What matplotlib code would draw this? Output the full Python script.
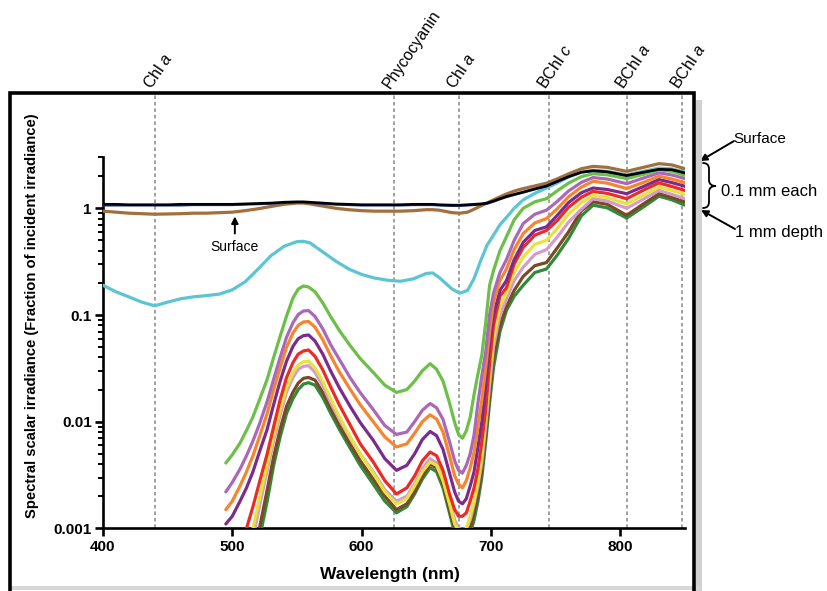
import numpy as np
import matplotlib
matplotlib.use("Agg")
import matplotlib.pyplot as plt
from matplotlib.patches import Rectangle, PathPatch
from matplotlib.path import Path
from matplotlib.ticker import FixedLocator, LogLocator, NullFormatter, FuncFormatter

nan = np.nan

# wavelength grid for the depth profiles (nm)
depth_nm = [495, 500, 506, 511, 516, 521, 527, 532, 537, 542, 547, 551, 555, 559, 564,
            570, 576, 583, 591, 599, 609, 618, 627,
            635, 641, 647, 653, 658, 663, 668, 672, 675, 678, 681, 684, 687, 690, 693,
            696, 699, 702, 707,
            712, 718, 725, 734, 743, 751, 760, 770, 779, 790, 805, 818, 830, 840, 850]

mm02 = [0.0041, 0.0049, 0.0063, 0.0083, 0.0111, 0.016, 0.025, 0.040, 0.063, 0.098,
        0.145, 0.175, 0.187, 0.183, 0.165, 0.130, 0.097, 0.071, 0.052, 0.039,
        0.029, 0.022, 0.0188,
        0.0200, 0.024, 0.030, 0.035, 0.031, 0.024, 0.015, 0.0098, 0.0076, 0.0070,
        0.0082, 0.011, 0.018, 0.028, 0.042, 0.085, 0.19, 0.26, 0.40,
        0.54, 0.78, 1.0, 1.15, 1.23, 1.45, 1.72, 1.98, 2.11, 2.06, 1.9, 2.08, 2.3, 2.22, 2.04]
mm03 = [0.0022, 0.0027, 0.0036, 0.0048, 0.0066, 0.0095, 0.0155, 0.025, 0.040, 0.062,
        0.085, 0.101, 0.109, 0.110, 0.097, 0.074, 0.053, 0.038, 0.026, 0.0187,
        0.013, 0.0092, 0.0076,
        0.0080, 0.0100, 0.0128, 0.0148, 0.0135, 0.0105, 0.0065, 0.0043, 0.0035, 0.0033,
        0.0039, 0.0050, 0.0075, 0.015, 0.027, 0.045, 0.10, 0.16, 0.25,
        0.33, 0.50, 0.72, 0.88, 0.96, 1.15, 1.45, 1.75, 1.94, 1.88, 1.7, 1.92, 2.15, 2.05, 1.9]
mm04 = [0.0015, 0.0018, 0.0025, 0.0034, 0.0048, 0.0072, 0.012, 0.020, 0.032, 0.050,
        0.068, 0.080, 0.086, 0.087, 0.077, 0.0585, 0.0417, 0.029, 0.0203, 0.0144,
        0.010, 0.0072, 0.0058,
        0.0062, 0.0078, 0.0100, 0.0116, 0.0106, 0.0080, 0.0048, 0.0031, 0.0026, 0.0024,
        0.0028, 0.0037, 0.0052, 0.009, 0.016, 0.032, 0.07, 0.13, 0.21,
        0.27, 0.41, 0.58, 0.73, 0.80, 0.98, 1.28, 1.58, 1.79, 1.72, 1.53, 1.75, 2.0, 1.88, 1.74]
mm05 = [0.0011, 0.0013, 0.0018, 0.0024, 0.0034, 0.0052, 0.0085, 0.0145, 0.024, 0.037,
        0.051, 0.060, 0.064, 0.065, 0.057, 0.043, 0.030, 0.0206, 0.014, 0.0098,
        0.0067, 0.0045, 0.0035,
        0.0039, 0.0050, 0.0068, 0.0081, 0.0074, 0.0055, 0.0033, 0.0022, 0.0018, 0.0017,
        0.0019, 0.0025, 0.0034, 0.0058, 0.010, 0.022, 0.055, 0.10, 0.17,
        0.21, 0.33, 0.48, 0.62, 0.67, 0.85, 1.13, 1.40, 1.55, 1.50, 1.37, 1.60, 1.86, 1.74, 1.61]
mm06 = [nan, nan, 0.0007, 0.0010, 0.0016, 0.0027, 0.0050, 0.0090, 0.016, 0.026,
        0.036, 0.043, 0.046, 0.047, 0.041, 0.0306, 0.0213, 0.0142, 0.0094, 0.0062,
        0.0042, 0.0028, 0.0021,
        0.0024, 0.0031, 0.0043, 0.0052, 0.0048, 0.0035, 0.0021, 0.0015, 0.0013, 0.0013,
        0.0014, 0.0018, 0.0024, 0.0036, 0.0065, 0.013, 0.035, 0.08, 0.15,
        0.18, 0.30, 0.43, 0.56, 0.62, 0.76, 1.02, 1.27, 1.44, 1.38, 1.23, 1.48, 1.73, 1.60, 1.47]
mm07 = [nan, nan, nan, nan, 0.0008, 0.0016, 0.0035, 0.0066, 0.0115, 0.019,
        0.026, 0.031, 0.033, 0.0335, 0.029, 0.0217, 0.0152, 0.0104, 0.0071, 0.0050,
        0.0034, 0.0023, 0.0018,
        0.0020, 0.0026, 0.0036, 0.0045, 0.0041, 0.0030, 0.0018, 0.0012, 0.0010, 0.00098,
        0.0010, 0.0012, 0.0017, 0.0025, 0.0042, 0.009, 0.022, 0.05, 0.10,
        0.14, 0.21, 0.28, 0.37, 0.41, 0.53, 0.74, 0.98, 1.23, 1.17, 1.00, 1.22, 1.47, 1.35, 1.23]
mm08 = [nan, nan, nan, 0.0007, 0.0010, 0.0019, 0.0040, 0.0075, 0.013, 0.021,
        0.029, 0.034, 0.0365, 0.037, 0.032, 0.0238, 0.0165, 0.011, 0.0073, 0.0050,
        0.0033, 0.0022, 0.0017,
        0.0019, 0.0025, 0.0034, 0.0042, 0.0039, 0.0028, 0.0017, 0.0011, 0.00095, 0.0009,
        0.0010, 0.0013, 0.0018, 0.0028, 0.0048, 0.011, 0.027, 0.06, 0.12,
        0.16, 0.25, 0.35, 0.46, 0.50, 0.64, 0.88, 1.13, 1.32, 1.26, 1.10, 1.33, 1.58, 1.47, 1.35]
mm09 = [nan, nan, nan, nan, 0.0005, 0.0010, 0.0023, 0.0047, 0.0085, 0.014,
        0.019, 0.023, 0.0255, 0.026, 0.0245, 0.0189, 0.0134, 0.0092, 0.0062, 0.0043,
        0.0029, 0.0020, 0.0015,
        0.0017, 0.0022, 0.0031, 0.0040, 0.0037, 0.0026, 0.0015, 0.0010, 0.0008, 0.00078,
        0.00085, 0.0010, 0.0014, 0.0021, 0.0035, 0.0075, 0.018, 0.04, 0.08,
        0.12, 0.17, 0.23, 0.29, 0.31, 0.42, 0.60, 0.95, 1.15, 1.09, 0.86, 1.1, 1.37, 1.26, 1.15]
mm10 = [nan, nan, nan, nan, nan, 0.0008, 0.0018, 0.0039, 0.0072, 0.012,
        0.0165, 0.020, 0.0225, 0.0232, 0.022, 0.0169, 0.0121, 0.0084, 0.0057, 0.0039,
        0.0026, 0.0018, 0.0014,
        0.0016, 0.0021, 0.0029, 0.0037, 0.0034, 0.0024, 0.0014, 0.0009, 0.0007, 0.00068,
        0.00075, 0.0009, 0.0012, 0.0018, 0.003, 0.0065, 0.015, 0.032, 0.07,
        0.11, 0.15, 0.19, 0.25, 0.27, 0.36, 0.52, 0.85, 1.07, 1.01, 0.81, 1.03, 1.3, 1.2, 1.07]

# wavelength grid for the full-range spectra (nm)
full_nm = [400, 410, 420, 430, 440, 450, 460, 470, 480, 490, 500, 510, 520, 530, 540,
           550, 555, 560, 570, 580, 590, 600, 610, 620, 630, 640, 650, 655, 660, 670,
           676, 682, 687, 692, 697, 702, 707, 712, 718, 725, 734, 743, 751, 760, 770,
           779, 790, 805, 818, 830, 840, 850]

incident = [1.09, 1.09, 1.08, 1.08, 1.08, 1.08, 1.09, 1.09, 1.09, 1.09, 1.09, 1.10, 1.11,
            1.12, 1.14, 1.15, 1.15, 1.14, 1.12, 1.10, 1.09, 1.08, 1.08, 1.08, 1.08, 1.09,
            1.09, 1.09, 1.08, 1.07, 1.07, 1.08, 1.09, 1.10, 1.12, 1.17, 1.23, 1.29, 1.35,
            1.42, 1.52, 1.62, 1.78, 1.98, 2.18, 2.25, 2.2, 2.03, 2.18, 2.32, 2.3, 2.15]
incident_b = [1.06, 1.06, 1.06, 1.06, 1.06, 1.06, 1.06, 1.07, 1.07, 1.07, 1.07, 1.08, 1.09,
              1.10, 1.12, 1.13, 1.13, 1.12, 1.10, 1.08, 1.07, 1.06, 1.06, 1.06, 1.06, 1.07,
              1.07, 1.07, 1.06, 1.05, 1.05, 1.06, 1.07, 1.08, 1.10, 1.15, 1.21, 1.27, 1.33,
              1.40, 1.50, 1.60, 1.76, 1.96, 2.16, 2.23, 2.18, 2.01, 2.16, 2.30, 2.28, 2.13]
surface = [0.94, 0.92, 0.90, 0.89, 0.88, 0.885, 0.89, 0.90, 0.90, 0.91, 0.92, 0.95, 0.99,
           1.04, 1.09, 1.12, 1.12, 1.10, 1.05, 1.00, 0.97, 0.95, 0.94, 0.94, 0.94, 0.95,
           0.97, 0.97, 0.96, 0.91, 0.90, 0.92, 0.98, 1.05, 1.12, 1.2, 1.28, 1.36, 1.45,
           1.53, 1.62, 1.72, 1.88, 2.1, 2.35, 2.47, 2.42, 2.22, 2.42, 2.62, 2.55, 2.35]
mm01 = [0.19, 0.165, 0.148, 0.132, 0.122, 0.132, 0.142, 0.148, 0.152, 0.157, 0.172, 0.205,
        0.27, 0.36, 0.44, 0.487, 0.49, 0.475, 0.39, 0.32, 0.27, 0.24, 0.222, 0.212, 0.207,
        0.218, 0.245, 0.248, 0.225, 0.175, 0.16, 0.17, 0.22, 0.32, 0.45, 0.56, 0.70, 0.82,
        1.0, 1.2, 1.38, 1.55, 1.72, 1.96, 2.18, 2.27, 2.22, 2.06, 2.22, 2.38, 2.34, 2.18]

pigment_nm = [440, 625, 675, 745, 805, 848]
pigment_labels = ["Chl $a$", "Phycocyanin", "Chl $a$", "BChl $c$", "BChl $a$", "BChl $a$"]

x_ticks = [400, 500, 600, 700, 800]
y_ticks = [0.001, 0.01, 0.1, 1]
y_tick_labels = ["0.001", "0.01", "0.1", "1"]

depth_series = [mm10, mm09, mm07, mm08, mm06, mm05, mm04, mm03, mm02]
depth_colors = ["#2f8a3b", "#7b4a24", "#d39ccd", "#e4e43a", "#ee2a24",
                "#7a2c8d", "#f6852c", "#aa68b8", "#6cbf47"]

plt.rcParams["font.family"] = ["Liberation Sans", "DejaVu Sans"]
plt.rcParams["mathtext.fontset"] = "custom"
plt.rcParams["mathtext.rm"] = "Liberation Sans"
plt.rcParams["mathtext.it"] = "Liberation Sans:italic"

W, H = 827, 591


def fx(px):
    return px / W


def fy(py):
    return 1 - py / H


fig = plt.figure(figsize=(8.27, 5.91), dpi=100)
ax = fig.add_axes([0.1245, 0.1059, 0.7036, 0.6278])

# outer frame with a soft shadow
fig.patches.append(Rectangle((0.842, -0.05), 0.007, 0.88, transform=fig.transFigure,
                             facecolor="#d0d0d0", edgecolor="none", zorder=0))
fig.patches.append(Rectangle((0.012, 0.002), 0.835, 0.006, transform=fig.transFigure,
                             facecolor="#d8d8d8", edgecolor="none", zorder=0))
fig.patches.append(Rectangle((0.0121, -0.05), 0.8269, 0.8926, transform=fig.transFigure,
                             facecolor="none", edgecolor="black", linewidth=2.6, zorder=1))

for x in pigment_nm:
    ax.axvline(x, ymin=0, ymax=1.168, color="#9a9a9a", linestyle=(0, (2, 1.6)),
               linewidth=1.3, clip_on=False, zorder=1)

for vals, col in zip(depth_series, depth_colors):
    ax.plot(depth_nm, vals, color=col, linewidth=2.3, solid_capstyle="round",
            solid_joinstyle="round", zorder=3)

ax.plot(full_nm, mm01, color="#5cc5d4", linewidth=2.3, solid_capstyle="round", zorder=4)
ax.plot(full_nm, surface, color="#a36f3d", linewidth=2.3, solid_capstyle="round", zorder=4)
ax.plot(full_nm, incident_b, color="#2a48a8", linewidth=1.4, zorder=5)
ax.plot(full_nm, incident, color="black", linewidth=1.9, zorder=6)

ax.set_yscale("log")
ax.set_xlim(400, 850)
ax.set_ylim(0.001, 3)
ax.xaxis.set_major_locator(FixedLocator(x_ticks))
ax.yaxis.set_major_locator(FixedLocator(y_ticks))
ax.yaxis.set_major_formatter(FuncFormatter(lambda v, _: y_tick_labels[y_ticks.index(v)]
                                           if v in y_ticks else ""))
ax.yaxis.set_minor_locator(LogLocator(base=10, subs=np.arange(2, 10)))
ax.yaxis.set_minor_formatter(NullFormatter())
for side in ["top", "right"]:
    ax.spines[side].set_visible(False)
for side in ["left", "bottom"]:
    ax.spines[side].set_linewidth(1.9)
ax.tick_params(which="major", direction="out", length=6, width=1.9, pad=2)
ax.tick_params(which="minor", direction="out", length=3.5, width=1.4)
for lab in ax.get_xticklabels() + ax.get_yticklabels():
    lab.set_fontweight("bold")
    lab.set_fontsize(11)
ax.patch.set_visible(False)

fig.text(fx(390), fy(574), "Wavelength (nm)", fontweight="bold",
         fontsize=12.5, ha="center", va="center")
fig.text(fx(32), fy(316),
         "Spectral scalar irradiance (Fraction of incident irradiance)",
         fontweight="bold", fontsize=10.6, rotation=90, ha="center", va="center")

label_tr = ax.get_xaxis_transform()
for x, lab in zip(pigment_nm, pigment_labels):
    ax.text(x - 1, 1.178, lab, transform=label_tr, rotation=56, rotation_mode="anchor",
            ha="left", va="bottom", fontsize=11.5, clip_on=False)

# arrow inside the plot pointing at the surface spectrum
ax.annotate("Surface", xy=(502, 0.84), xytext=(502, 0.43), ha="center", va="center",
            fontsize=10, arrowprops=dict(arrowstyle="-|>", color="black", lw=1.4,
                                         mutation_scale=10, shrinkB=0, shrinkA=3))

# right-hand notes about the depth series
fig.text(fx(733), fy(139), "Surface", fontsize=11, ha="left", va="center")
fig.text(fx(721), fy(191), "0.1 mm each", fontsize=12, ha="left", va="center")
fig.text(fx(735), fy(233), "1 mm depth", fontsize=12, ha="left", va="center")

brace_px = [(703, 163), (709, 163), (709, 169), (709, 180), (709, 186), (716, 186),
            (709, 186), (709, 192), (709, 202), (709, 208), (703, 208)]
brace_codes = [Path.MOVETO, Path.CURVE3, Path.CURVE3, Path.LINETO, Path.CURVE3,
               Path.CURVE3, Path.CURVE3, Path.CURVE3, Path.LINETO, Path.CURVE3, Path.CURVE3]
brace = Path([(fx(px), fy(py)) for px, py in brace_px], brace_codes)
fig.patches.append(PathPatch(brace, transform=fig.transFigure, facecolor="none",
                             edgecolor="black", linewidth=1.3, capstyle="round"))

ax.annotate("", xy=(fx(700), fy(161)), xycoords="figure fraction",
            xytext=(fx(734), fy(141)), textcoords="figure fraction",
            arrowprops=dict(arrowstyle="-|>", color="black", lw=1.4, mutation_scale=10,
                            shrinkA=0, shrinkB=0))
ax.annotate("", xy=(fx(701), fy(210)), xycoords="figure fraction",
            xytext=(fx(735), fy(229)), textcoords="figure fraction",
            arrowprops=dict(arrowstyle="-|>", color="black", lw=1.4, mutation_scale=10,
                            shrinkA=0, shrinkB=0))

fig.savefig("out.png", dpi=100)
